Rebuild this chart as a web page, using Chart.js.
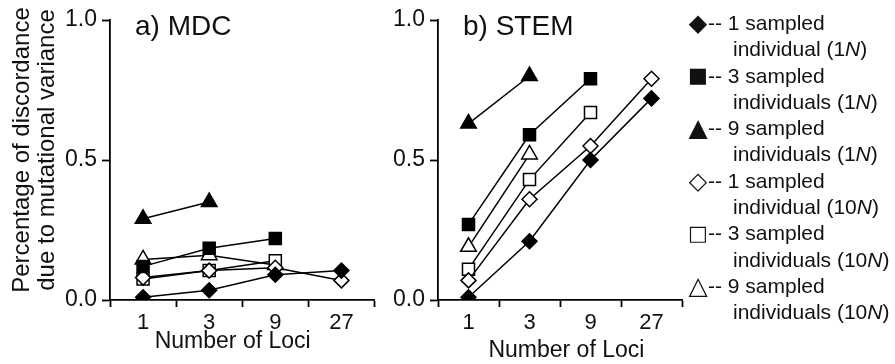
<!DOCTYPE html>
<html>
<head>
<meta charset="utf-8">
<script src="https://cdn.jsdelivr.net/npm/chart.js@4/dist/chart.umd.min.js"></script>
<style>
  body { margin: 0; background: #fff; }
  #wrap { position: relative; width: 895px; height: 364px; overflow: hidden; font-family: "Liberation Sans", Arial, sans-serif; }
  #c1 { position: absolute; left: 0; top: 0; }
  #c2 { position: absolute; left: 375px; top: 0; }
  #legend { position: absolute; left: 688px; top: 10px; font-size: 21px; line-height: 26.3px; color: #111; }
  .row { position: relative; height: 52.6px; }
  .sym { position: absolute; left: -2px; top: 0; width: 24px; height: 26px; display: flex; align-items: center; justify-content: center; font-family: "DejaVu Sans", sans-serif; }
  .l1 { position: absolute; left: 20px; top: 0; white-space: nowrap; }
  .l2 { position: absolute; left: 45px; top: 26.3px; white-space: nowrap; }
</style>
</head>
<body>
<div id="wrap">
  <canvas id="c1" width="385" height="364"></canvas>
  <canvas id="c2" width="320" height="364"></canvas>
  <div id="legend"></div>
</div>
<script>
const loci = ["1", "3", "9", "27"];
const yTicks = [0, 0.5, 1.0];

// a) MDC
const mdcOne1N = [0.01, 0.035, 0.09, 0.105];
const mdcThree1N = [0.12, 0.185, 0.22];
const mdcNine1N = [0.29, 0.35];
const mdcOne10N = [0.08, 0.105, 0.115, 0.07];
const mdcThree10N = [0.075, 0.105, 0.14];
const mdcNine10N = [0.145, 0.16, 0.125];

// b) STEM
const stemOne1N = [0.01, 0.21, 0.50, 0.72];
const stemThree1N = [0.27, 0.59, 0.79];
const stemNine1N = [0.63, 0.80];
const stemOne10N = [0.07, 0.36, 0.55, 0.79];
const stemThree10N = [0.11, 0.43, 0.67];
const stemNine10N = [0.19, 0.52];

const seriesNames = [
    ["1 sampled", "individual (1<i>N</i>)"],
    ["3 sampled", "individuals (1<i>N</i>)"],
    ["9 sampled", "individuals (1<i>N</i>)"],
    ["1 sampled", "individual (10<i>N</i>)"],
    ["3 sampled", "individuals (10<i>N</i>)"],
    ["9 sampled", "individuals (10<i>N</i>)"]
];
const legendSymbols = ["◆", "■", "▲", "◇", "□", "△"];
const legendSymbolSize = [24, 21, 25, 24, 21, 25];

const FONT = "'Liberation Sans', Arial, sans-serif";
const markers = [
    { style: "rectRot", r: 7.5, fill: "#000" },
    { style: "rect", r: 8.5, fill: "#000" },
    { style: "triangle", r: 9, fill: "#000" },
    { style: "rectRot", r: 7.5, fill: "#fff" },
    { style: "rect", r: 8.5, fill: "#fff" },
    { style: "triangle", r: 9, fill: "#fff" }
];

function makeDatasets(list) {
    return list.map((d, i) => ({
        data: d,
        borderColor: "#000",
        borderWidth: 1.5,
        pointStyle: markers[i].style,
        pointRadius: markers[i].r,
        pointBackgroundColor: markers[i].fill,
        pointBorderColor: "#000",
        pointBorderWidth: 1.5,
        tension: 0
    }));
}

const panelTitle = {
    id: "panelTitle",
    afterDraw(chart, args, opts) {
        const ctx = chart.ctx;
        ctx.save();
        ctx.fillStyle = "#111";
        ctx.font = "28px " + FONT;
        ctx.textBaseline = "middle";
        ctx.fillText(opts.text, chart.chartArea.left + 25, 27);
        ctx.restore();
    }
};

function makeChart(id, title, list, yWidth, padRight, showYTitle, xTitle, xTitlePad) {
    return new Chart(document.getElementById(id), {
        type: "line",
        data: { labels: loci, datasets: makeDatasets(list) },
        plugins: [panelTitle],
        options: {
            responsive: false,
            animation: false,
            layout: { padding: { top: 20, right: padRight, left: 0, bottom: 0 } },
            plugins: {
                legend: { display: false },
                tooltip: { enabled: false },
                panelTitle: { text: title }
            },
            scales: {
                x: {
                    type: "category",
                    offset: true,
                    border: { color: "#000", width: 1.8 },
                    grid: { offset: true, drawOnChartArea: false, drawTicks: true, tickLength: 7, tickColor: "#000", tickWidth: 1.8 },
                    ticks: { color: "#111", font: { size: 22, family: FONT }, padding: 3, maxRotation: 0 },
                    title: { display: true, text: xTitle, color: "#111", font: { size: 23, family: FONT }, padding: { top: 0, bottom: xTitlePad } },
                    afterFit(s) { s.height = 64; }
                },
                y: {
                    min: 0,
                    max: 1,
                    afterBuildTicks(s) { s.ticks = yTicks.map(v => ({ value: v })); },
                    border: { color: "#000", width: 1.8 },
                    grid: { drawOnChartArea: false, drawTicks: true, tickLength: 8, tickColor: "#000", tickWidth: 1.8 },
                    ticks: { color: "#111", font: { size: 23, family: FONT }, padding: 5, callback: v => v.toFixed(1) },
                    title: {
                        display: showYTitle,
                        text: ["   Percentage of discordance", "   due to mutational variance"],
                        color: "#111",
                        font: { size: 24, family: FONT, lineHeight: 1.05 },
                        padding: { top: 10, bottom: 0 }
                    },
                    afterFit(s) { s.width = yWidth; }
                }
            }
        }
    });
}

makeChart("c1", "a) MDC", [mdcOne1N, mdcThree1N, mdcNine1N, mdcOne10N, mdcThree10N, mdcNine10N], 110, 8, true, "Number of Loci   ", 9);
makeChart("c2", "b) STEM", [stemOne1N, stemThree1N, stemNine1N, stemOne10N, stemThree10N, stemNine10N], 63, 13, false, "  Number of Loci", 0);

const legend = document.getElementById("legend");
seriesNames.forEach((n, i) => {
    const row = document.createElement("div");
    row.className = "row";
    row.innerHTML = '<span class="sym" style="font-size:' + legendSymbolSize[i] + 'px">' + legendSymbols[i] + '</span><span class="l1">-- ' + n[0] + '</span><span class="l2">' + n[1] + '</span>';
    legend.appendChild(row);
});
</script>
</body>
</html>
